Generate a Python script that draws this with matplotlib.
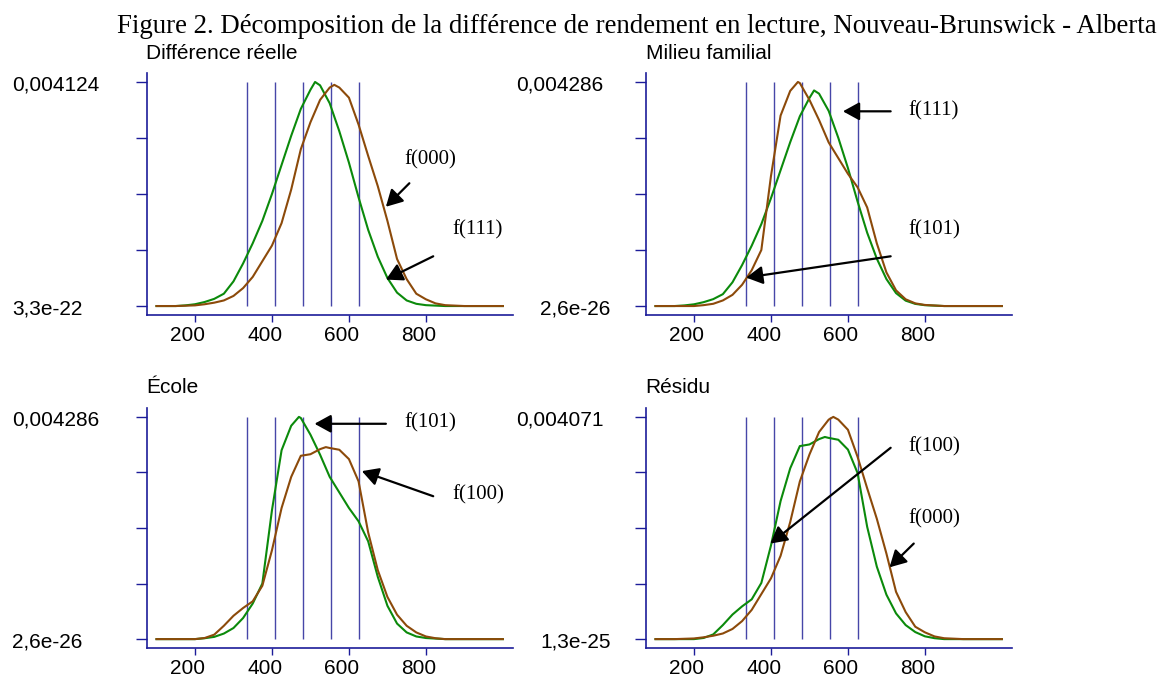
import numpy as np
import matplotlib
matplotlib.use("Agg")
import matplotlib.pyplot as plt
from matplotlib.transforms import blended_transform_factory, ScaledTranslation

# densities, in units of 1e-3
x_f111 = [100, 150, 175, 200, 225, 250, 275, 300, 325, 350, 375, 400, 425, 450, 475, 500, 512,
          525, 550, 575, 600, 625, 650, 675, 700, 725, 750, 775, 800, 850, 1000]
f111 = [0, 0, 0.012, 0.033, 0.074, 0.132, 0.227, 0.454, 0.784, 1.155, 1.567, 2.062, 2.598, 3.134,
        3.629, 3.980, 4.124, 4.062, 3.732, 3.217, 2.639, 2.000, 1.402, 0.907, 0.516, 0.247, 0.103,
        0.041, 0.016, 0, 0]

x_f000 = [100, 150, 200, 225, 250, 275, 300, 325, 350, 375, 400, 425, 450, 475, 500, 525, 550, 562,
          575, 600, 625, 650, 675, 700, 725, 750, 775, 800, 825, 850, 900, 1000]
f000 = [0, 0, 0.012, 0.033, 0.062, 0.103, 0.186, 0.330, 0.536, 0.825, 1.113, 1.526, 2.144, 2.887,
        3.382, 3.794, 4.021, 4.071, 4.021, 3.835, 3.340, 2.763, 2.206, 1.567, 0.866, 0.495, 0.227,
        0.124, 0.049, 0.016, 0, 0]

x_f101 = [100, 200, 225, 250, 275, 300, 325, 350, 375, 400, 425, 450, 470, 475, 500, 525, 550, 575,
          600, 625, 650, 675, 700, 725, 750, 775, 800, 850, 1000]
f101 = [0, 0, 0.017, 0.043, 0.107, 0.214, 0.407, 0.686, 1.072, 2.486, 3.643, 4.115, 4.286, 4.265,
        3.943, 3.557, 3.129, 2.829, 2.529, 2.272, 1.886, 1.200, 0.643, 0.300, 0.129, 0.051, 0.021,
        0, 0]

x_f100 = [100, 200, 225, 250, 275, 300, 325, 350, 375, 400, 425, 450, 475, 500, 525, 540, 550, 575,
          600, 625, 650, 675, 700, 725, 750, 775, 800, 825, 850, 1000]
f100 = [0, 0, 0.021, 0.086, 0.257, 0.450, 0.600, 0.729, 1.029, 1.714, 2.529, 3.129, 3.536, 3.566,
        3.664, 3.703, 3.686, 3.652, 3.472, 3.043, 2.057, 1.329, 0.814, 0.471, 0.257, 0.129, 0.051,
        0.017, 0, 0]

curves = {
    "f111": (x_f111, f111),
    "f000": (x_f000, f000),
    "f101": (x_f101, f101),
    "f100": (x_f100, f100),
}

levels = [334.75, 407.47, 480.18, 552.89, 625.61]
xticks = [200, 400, 600, 800]

titles = ["Différence réelle", "Milieu familial", "École", "Résidu"]
ymax = [0.004124, 0.004286, 0.004286, 0.004071]
ytop_labels = ["0,004124", "0,004286", "0,004286", "0,004071"]
ybot_labels = ["3,3e-22", "2,6e-26", "2,6e-26", "1,3e-25"]
green_curve = ["f111", "f111", "f101", "f100"]
brown_curve = ["f000", "f101", "f100", "f000"]

# annotations: (label, text x, text y frac, tail x, tail frac, tip x, tip frac)
notes = [
    [("f(000)", 743, 0.652, 757, 0.548, 696, 0.443),
     ("f(111)", 868, 0.339, 819, 0.222, 696, 0.118)],
    [("f(111)", 758, 0.872, 711, 0.869, 587, 0.869),
     ("f(101)", 758, 0.339, 711, 0.222, 335.5, 0.127)],
    [("f(101)", 743, 0.972, 696, 0.969, 510.6, 0.969),
     ("f(100)", 868, 0.650, 819, 0.643, 633.5, 0.756)],
    [("f(100)", 758, 0.864, 711, 0.861, 398.5, 0.430),
     ("f(000)", 758, 0.543, 771, 0.430, 708, 0.323)],
]

GREEN = "#0b8a0b"
BROWN = "#8c4a0a"
AXCOL = "#1c1c99"
LVCOL = "#4646a8"
SANS = "Liberation Sans"
SERIF = "Liberation Serif"

W, H = 1170, 677
fig = plt.figure(figsize=(W / 100, H / 100), dpi=100)

fig.text(117 / W, 1 - 33 / H,
         "Figure 2. Décomposition de la différence de rendement en lecture, Nouveau-Brunswick - Alberta",
         ha="left", va="baseline", fontsize=19.4, family=SERIF)

lefts = [146.5, 645.5, 146.5, 645.5]
bottoms = [315, 315, 648, 648]
heights = [242, 242, 240, 240]
sub_base = [59, 59, 393, 393]
ylab_x = [(12, 12), (516, 540), (12, 12), (516, 540)]
down = ScaledTranslation(0, -3 / 100, fig.dpi_scale_trans)

for i in range(4):
    ax = fig.add_axes([lefts[i] / W, 1 - bottoms[i] / H, 366 / W, heights[i] / H])
    ym = ymax[i]
    ax.vlines(levels, 0, ym, color=LVCOL, lw=1.0, zorder=1)
    xg, yg = curves[green_curve[i]]
    xb, yb = curves[brown_curve[i]]
    ax.plot(xg, np.array(yg) * 1e-3, color=GREEN, lw=1.5, zorder=3)
    ax.plot(xb, np.array(yb) * 1e-3, color=BROWN, lw=1.5, zorder=3)

    ax.set_xlim(74, 1025)
    ax.set_ylim(-0.04 * ym, 1.04 * ym)
    ax.set_xticks(xticks)
    ax.set_yticks(np.linspace(0, ym, 5))
    ax.tick_params(axis="x", direction="out", length=5, width=1, color=AXCOL,
                   labelsize=15, pad=3)
    ax.tick_params(axis="y", direction="out", length=8, width=1, color=AXCOL, labelleft=False)
    for lab in ax.get_xticklabels():
        lab.set_family(SANS)
        lab.set_transform(lab.get_transform() + ScaledTranslation(-7 / 100, 0, fig.dpi_scale_trans))
    for s in ["top", "right"]:
        ax.spines[s].set_visible(False)
    for s in ["left", "bottom"]:
        ax.spines[s].set_color(AXCOL)
        ax.spines[s].set_linewidth(1.2)

    fig.text(lefts[i] / W, 1 - sub_base[i] / H, titles[i], ha="left", va="baseline",
             fontsize=15, family=SANS)

    tr = blended_transform_factory(fig.transFigure, ax.transData) + down
    ax.text(ylab_x[i][0] / W, ym, ytop_labels[i], transform=tr, ha="left", va="center",
            fontsize=15, family=SANS, clip_on=False)
    ax.text(ylab_x[i][1] / W, 0, ybot_labels[i], transform=tr, ha="left", va="center",
            fontsize=15, family=SANS, clip_on=False)

    for lab, tx, ty, ax0, ay0, ax1, ay1 in notes[i]:
        ax.text(tx, ty * ym, lab, ha="left", va="center", fontsize=15, family=SERIF)
        ax.annotate("", xy=(ax1, ay1 * ym), xytext=(ax0, ay0 * ym),
                    arrowprops=dict(arrowstyle="-|>,head_length=1.0,head_width=0.55",
                                    mutation_scale=10, lw=1.6, color="black",
                                    shrinkA=0, shrinkB=0))

fig.savefig("out.png", dpi=100)
